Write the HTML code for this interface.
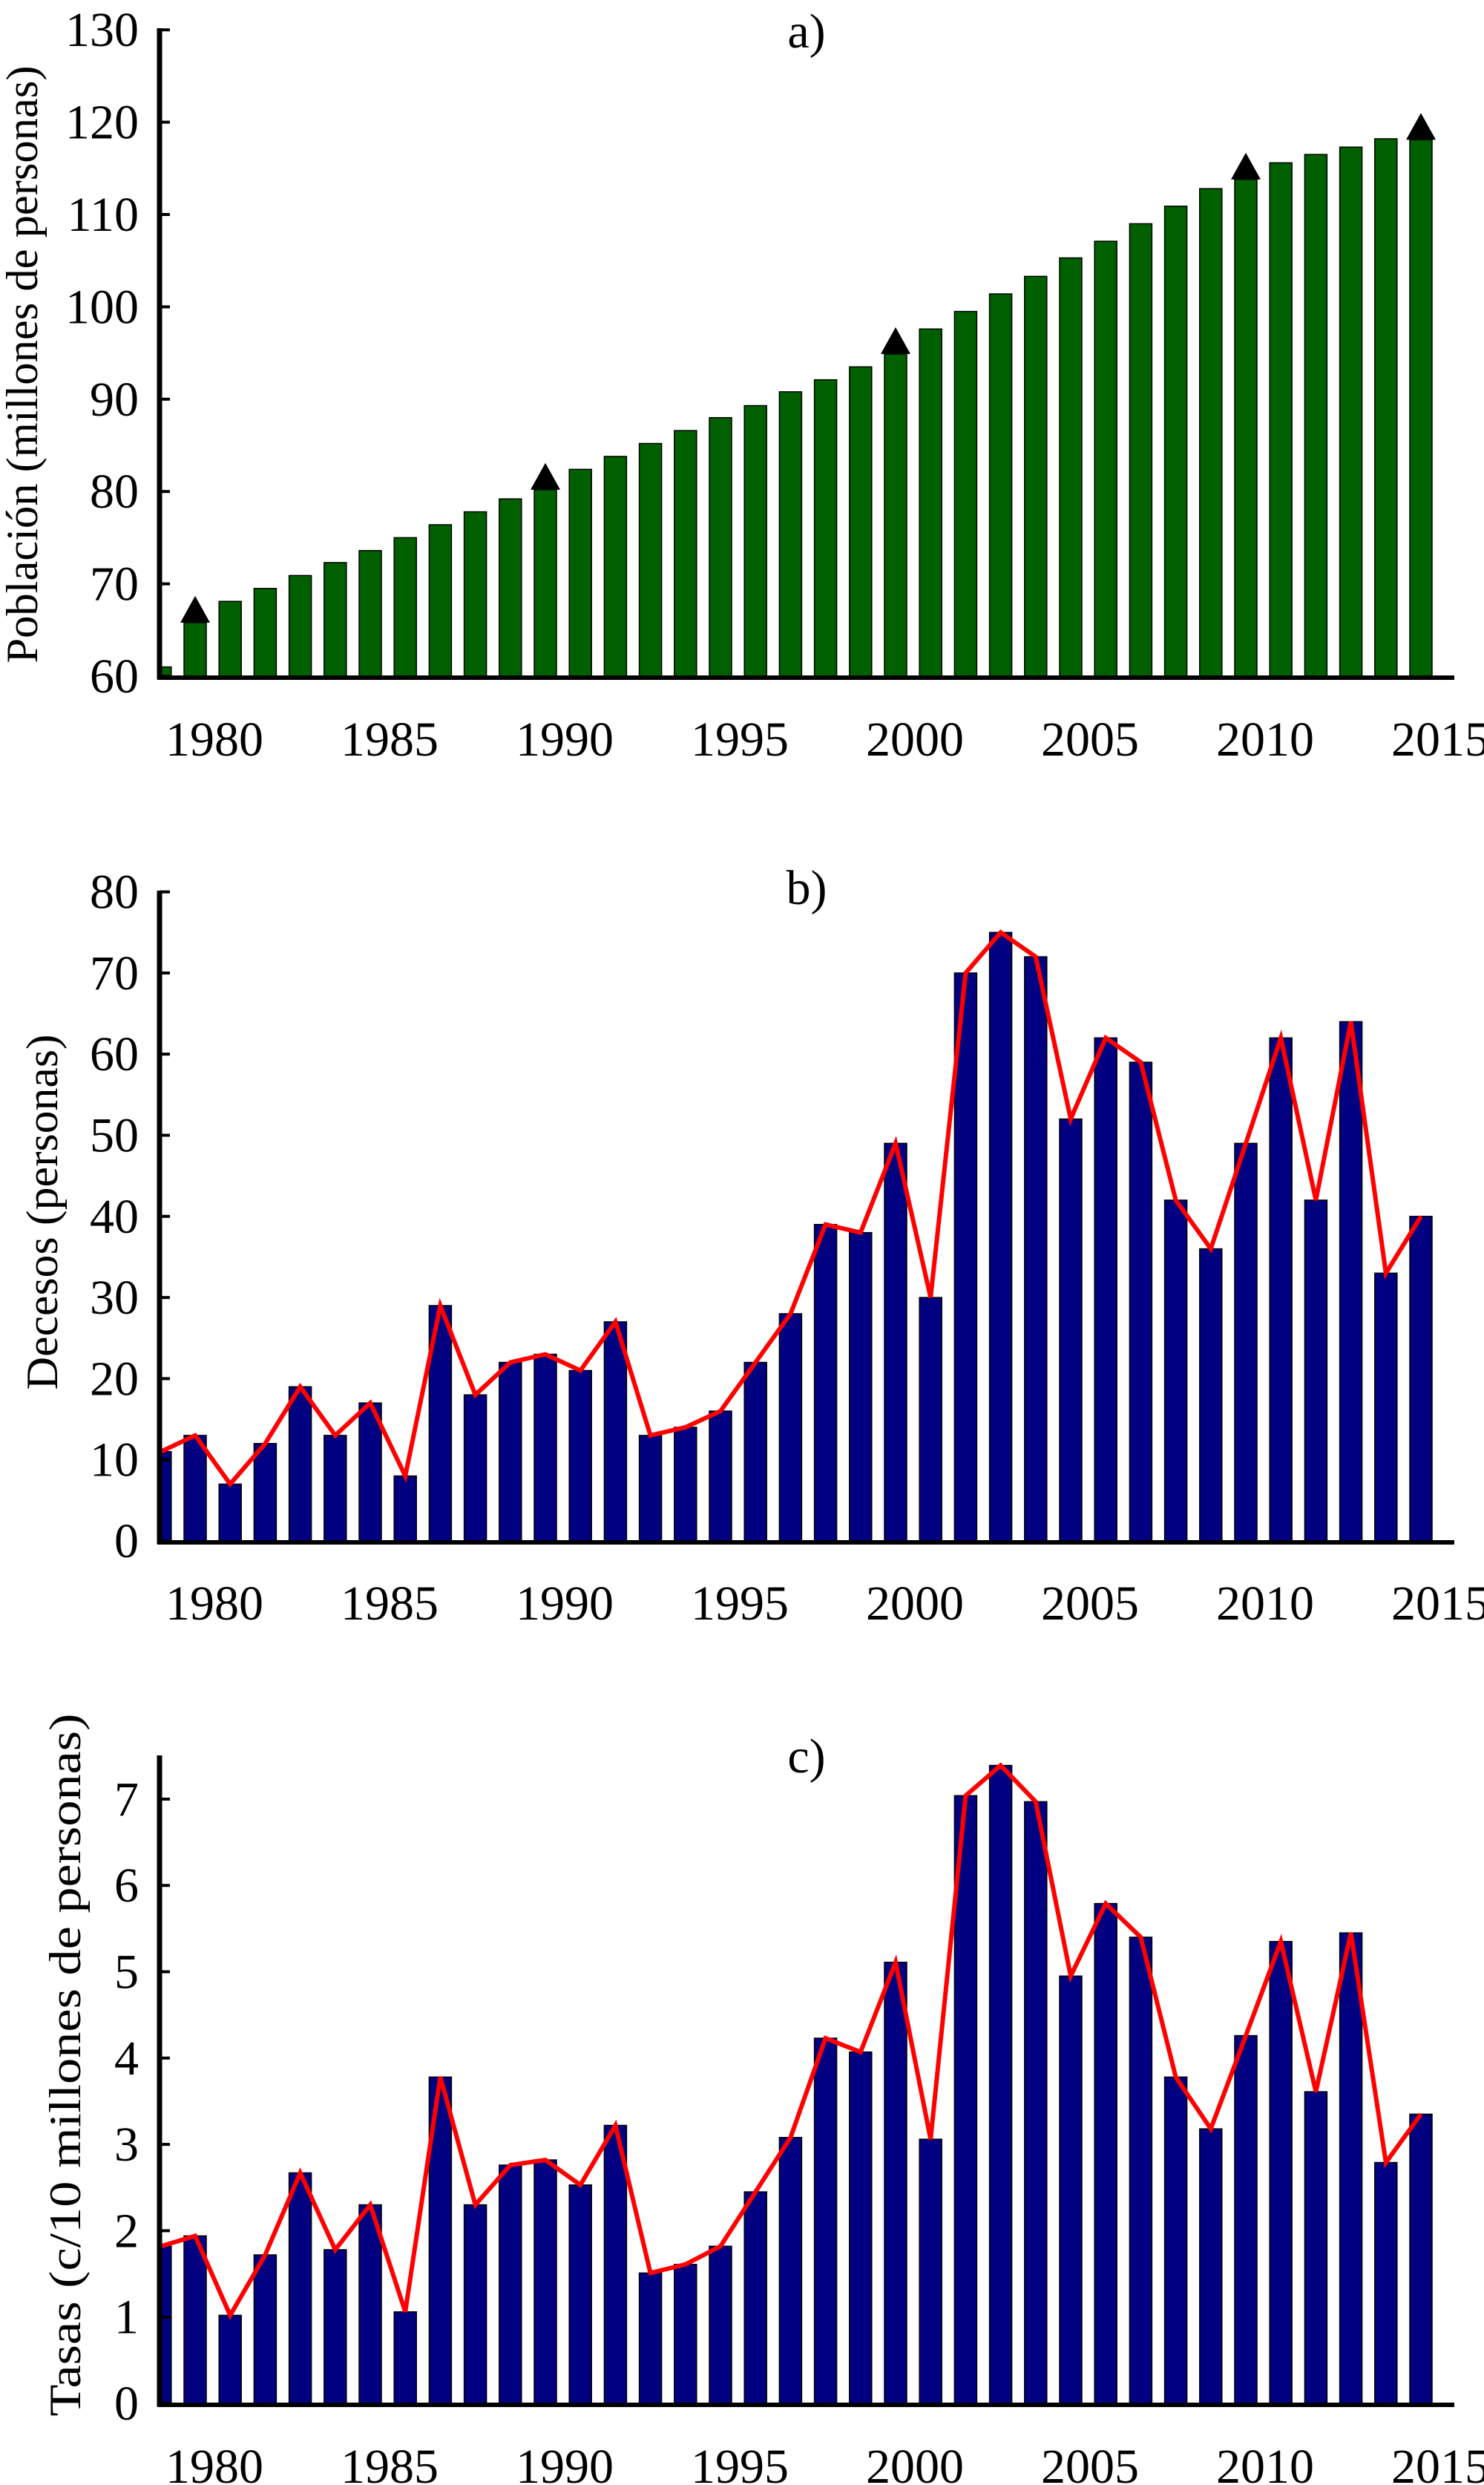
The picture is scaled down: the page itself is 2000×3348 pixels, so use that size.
<!DOCTYPE html>
<html><head><meta charset="utf-8">
<style>
html,body{margin:0;padding:0;background:#fff;}
svg{display:block;font-family:"Liberation Serif","Times New Roman",serif;}
</style></head>
<body>
<svg id="fig" width="2000" height="3348" viewBox="0 0 2000 3348" xmlns="http://www.w3.org/2000/svg">
<rect x="0" y="0" width="2000" height="3348" fill="#fff"/>
<g id="pa"></g>
<g id="pb"></g>
<g id="pc"></g>
</svg>
<script>
const years = [1979,1980,1981,1982,1983,1984,1985,1986,1987,1988,1989,1990,1991,1992,1993,1994,1995,1996,1997,1998,1999,2000,2001,2002,2003,2004,2005,2006,2007,2008,2009,2010,2011,2012,2013,2014,2015];
const poblacion = [61.0,65.8,68.1,69.5,70.9,72.3,73.6,75.0,76.4,77.8,79.2,80.2,82.4,83.8,85.2,86.6,88.0,89.3,90.8,92.1,93.5,94.9,97.6,99.5,101.4,103.3,105.3,107.1,109.0,110.9,112.8,113.8,115.6,116.5,117.3,118.2,118.1];
const censusYears = [1980,1990,2000,2010,2015];
const decesos = [11,13,7,12,19,13,17,8,29,18,22,23,21,27,13,14,16,22,28,39,38,49,30,70,75,72,52,62,59,42,36,49,62,42,64,33,40];
const tasas = [1.82,1.94,1.02,1.72,2.67,1.78,2.30,1.06,3.78,2.30,2.76,2.82,2.53,3.22,1.51,1.61,1.82,2.45,3.08,4.23,4.07,5.11,3.06,7.04,7.39,6.97,4.95,5.79,5.40,3.78,3.18,4.26,5.35,3.61,5.45,2.79,3.35];
const xTickYears = [1980,1985,1990,1995,2000,2005,2010,2015];
const ticksA = [60,70,80,90,100,110,120,130];
const ticksB = [0,10,20,30,40,50,60,70,80];
const ticksC = [0,1,2,3,4,5,6,7];

const NS = "http://www.w3.org/2000/svg";
const AX = 215, AXR = 1960, BW = 30;
function xScale(y){ return 263 + (y - 1980) * 47.2; }
function mk(tag, attrs, parent){
  const e = document.createElementNS(NS, tag);
  for (const k in attrs) e.setAttribute(k, attrs[k]);
  parent.appendChild(e);
  return e;
}

function panel(g, cfg){
  const ys = v => cfg.y0 - (v - cfg.vmin) * cfg.unit;
  const clip = mk('clipPath', {id: cfg.id + 'clip'}, g);
  mk('rect', {x: AX, y: 0, width: 2000 - AX, height: 3348}, clip);
  const bars = mk('g', {'clip-path': 'url(#' + cfg.id + 'clip)'}, g);
  
  
  years.forEach((yr, i) => {
    const v = cfg.values[i];
    const top = ys(v);
    const r = mk('rect', {x: xScale(yr) - BW/2, y: top, width: BW, height: cfg.y0 - top, fill: cfg.color, stroke: '#000', 'stroke-width': 1.5}, bars);
    
    
  });
  if (cfg.markers) {
    cfg.markers.forEach(yr => {
      const i = years.indexOf(yr);
      const cx = xScale(yr), top = ys(cfg.values[i]);
      const t = mk('polygon', {points: (cx-20)+','+top+' '+(cx+20)+','+top+' '+cx+','+(top-36), fill: '#000'}, g);
      
      
    });
  }
  if (cfg.line) {
    const pts = years.map((yr, i) => Math.max(xScale(yr), AX + 2) + ',' + ys(cfg.values[i])).join(' ');
    const pl = mk('polyline', {points: pts, fill: 'none', stroke: '#ff0000', 'stroke-width': 6, 'stroke-linejoin': 'miter'}, g);
    
    
  }
  const ya = mk('line', {x1: AX, y1: cfg.axTop, x2: AX, y2: cfg.y0 + 4, stroke: '#000', 'stroke-width': 7}, g);
  
  
  const xa = mk('line', {x1: AX - 3, y1: cfg.y0 + 2, x2: AXR, y2: cfg.y0 + 2, stroke: '#000', 'stroke-width': 6}, g);
  
  
  cfg.ticks.forEach(tv => {
    const ty = ys(tv);
    const tk = mk('line', {x1: AX, y1: ty, x2: AX + 14, y2: ty, stroke: '#000', 'stroke-width': 4}, g);
    
    
    const tl = mk('text', {x: 187, y: ty + 22, 'text-anchor': 'end', 'font-size': 66, fill: '#000'}, g);
    tl.textContent = tv;
    
    
  });
  xTickYears.forEach(yr => {
    const xl = mk('text', {x: xScale(yr) + 26, y: cfg.xlabY + 22, 'text-anchor': 'middle', 'font-size': 66, fill: '#000'}, g);
    xl.textContent = yr;
    
    
  });
  const ttl = mk('text', {x: 1087, y: cfg.titleY + 20, 'text-anchor': 'middle', 'font-size': 66, fill: '#000'}, g);
  ttl.textContent = cfg.title;
  
  
  const yt = mk('text', {x: 0, y: 0, 'text-anchor': 'middle', 'font-size': 60, fill: '#000', textLength: cfg.ylabLen, lengthAdjust: 'spacingAndGlyphs', transform: 'translate(' + (cfg.ylabX + 20) + ',' + cfg.ylabY + ') rotate(-90)'}, g);
  yt.textContent = cfg.ylab;
  
  
}

panel(document.getElementById('pa'), {id:'a', values: poblacion, vmin: 60, y0: 911, unit: 12.44, axTop: 38, ticks: ticksA, color: '#006000', markers: censusYears, line: false, xlabY: 996, titleY: 44, title: 'a)', ylab: 'Población (millones de personas)', ylabX: 30, ylabY: 491, ylabLen: 805});
panel(document.getElementById('pb'), {id:'b', values: decesos, vmin: 0, y0: 2076, unit: 10.93, axTop: 1200, ticks: ticksB, color: '#000080', line: true, xlabY: 2160, titleY: 1198, title: 'b)', ylab: 'Decesos (personas)', ylabX: 57, ylabY: 1633, ylabLen: 479});
panel(document.getElementById('pc'), {id:'c', values: tasas, vmin: 0, y0: 3238, unit: 116.3, axTop: 2365, ticks: ticksC, color: '#000080', line: true, xlabY: 3323, titleY: 2368, title: 'c)', ylab: 'Tasas (c/10 millones de personas)', ylabX: 88, ylabY: 2782, ylabLen: 947});
</script>
</body></html>
